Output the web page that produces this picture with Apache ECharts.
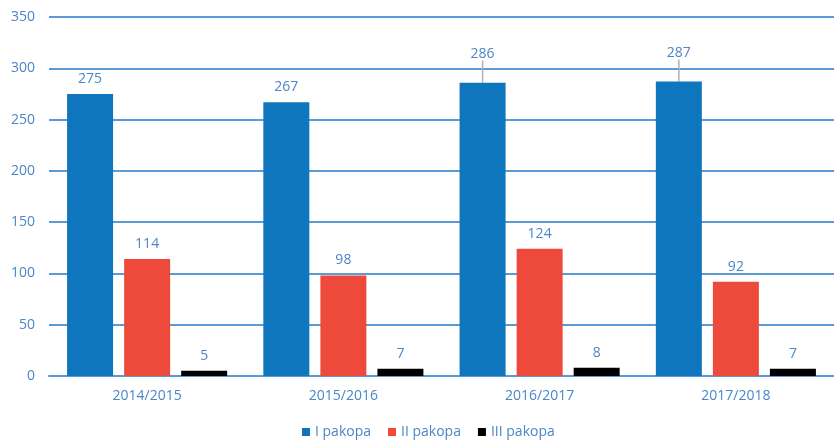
<!DOCTYPE html>
<html><head><meta charset="utf-8">
<script src="https://cdn.jsdelivr.net/npm/echarts@6/dist/echarts.min.js"></script>
<style>html,body{margin:0;padding:0;background:#fff}#c{width:834px;height:443px}</style>
</head><body><div id="c"></div>
<script>
const categories = ['2014/2015', '2015/2016', '2016/2017', '2017/2018'];
const seriesNames = ['I pakopa', 'II pakopa', 'III pakopa'];
const pakopa1 = [275, 267, 286, 287];
const pakopa2 = [114, 98, 124, 92];
const pakopa3 = [5, 7, 8, 7];
const yTicks = [0, 50, 100, 150, 200, 250, 300, 350];

const colors = ['#0f75bd', '#ee4a3c', '#000000'];
const txt = '#4a86c8';
const font = 'Open Sans';

function mk(name, data, color, i) {
  const d = data.map((v, k) => (i === 0 && k >= 2)
    ? { value: v, labelLine: { show: true, lineStyle: { color: '#b0b0b0', width: 1.5 } } }
    : v);
  return {
    name, type: 'bar', data: d,
    barWidth: 46, barGap: '24%',
    itemStyle: { color },
    label: { show: true, position: 'top', distance: 8, color: txt, fontSize: 14, fontFamily: font },
    labelLine: { show: false },
    labelLayout: i === 0 ? function (p) {
      return (p.dataIndex >= 2) ? { dy: -14 } : {};
    } : undefined
  };
}

const chart = echarts.init(document.getElementById('c'), null, { renderer: 'canvas' });
chart.setOption({
  animation: false,
  textStyle: { fontFamily: font },
  grid: { left: 49, right: 0, top: 17, bottom: 67, containLabel: false },
  legend: {
    top: 425, left: 302, padding: 0, itemWidth: 8, itemHeight: 8, itemGap: 17,
    icon: 'rect',
    textStyle: { color: txt, fontSize: 14, fontFamily: font },
    data: seriesNames
  },
  xAxis: {
    type: 'category', data: categories,
    axisLine: { lineStyle: { color: '#5b9bd5', width: 2 } },
    axisTick: { show: false },
    axisLabel: { color: txt, fontSize: 14, fontFamily: font, margin: 13 }
  },
  yAxis: {
    type: 'value', min: yTicks[0], max: yTicks[yTicks.length - 1], interval: 50,
    axisLine: { show: false }, axisTick: { show: false },
    axisLabel: { color: txt, fontSize: 14, fontFamily: font, margin: 14 },
    splitLine: { lineStyle: { color: '#5b9bd5', width: 2 } }
  },
  series: [
    mk(seriesNames[0], pakopa1, colors[0], 0),
    mk(seriesNames[1], pakopa2, colors[1], 1),
    mk(seriesNames[2], pakopa3, colors[2], 2)
  ]
});
</script></body></html>
